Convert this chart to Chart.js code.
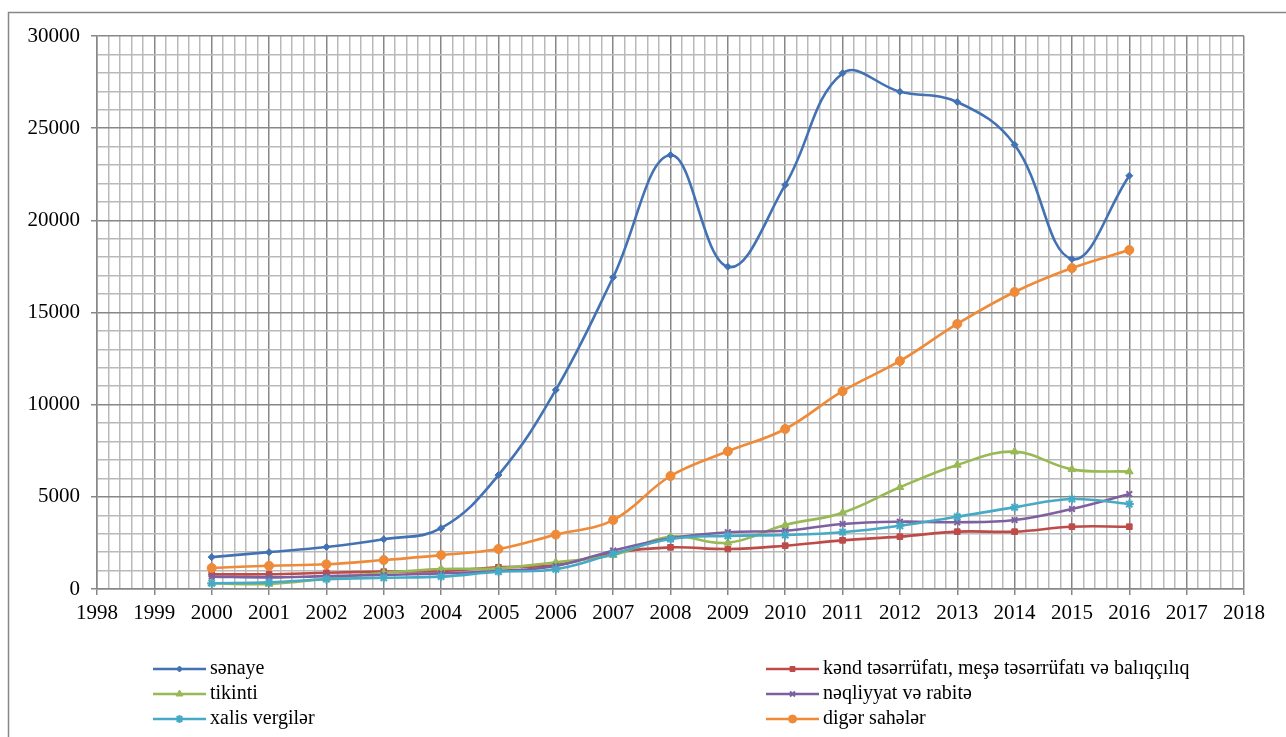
<!DOCTYPE html>
<html>
<head>
<meta charset="utf-8">
<script src="https://cdn.jsdelivr.net/npm/chart.js@4/dist/chart.umd.min.js"></script>
<style>
  html, body { margin: 0; padding: 0; background: #fff; }
  canvas { display: block; }
</style>
</head>
<body>
<canvas id="chart" width="1286" height="737"></canvas>
<script>
const years = [2000, 2001, 2002, 2003, 2004, 2005, 2006, 2007, 2008, 2009, 2010, 2011, 2012, 2013, 2014, 2015, 2016];

const senaye    = [1730, 2000, 2280, 2700, 3300, 6180, 10800, 16910, 23540, 17480, 21920, 27980, 26980, 26420, 24100, 17900, 22420];
const kend      = [800, 800, 880, 940, 980, 1180, 1300, 1970, 2260, 2170, 2350, 2640, 2840, 3110, 3110, 3380, 3380];
const tikinti   = [310, 270, 560, 880, 1085, 1120, 1450, 1840, 2840, 2510, 3470, 4140, 5520, 6730, 7450, 6490, 6370];
const neqliyyat = [670, 630, 700, 760, 850, 980, 1250, 2080, 2750, 3080, 3160, 3530, 3650, 3620, 3740, 4340, 5150];
const xalis     = [310, 360, 530, 610, 670, 940, 1070, 1900, 2710, 2880, 2930, 3080, 3430, 3920, 4430, 4880, 4610];
const diger     = [1140, 1260, 1340, 1570, 1840, 2170, 2950, 3740, 6130, 7470, 8680, 10730, 12370, 14380, 16110, 17410, 18390];

const seriesNames = [
    'sənaye',
    'kənd təsərrüfatı, meşə təsərrüfatı və balıqçılıq',
    'tikinti',
    'nəqliyyat və rabitə',
    'xalis vergilər',
    'digər sahələr'
];
const seriesValues = [senaye, kend, tikinti, neqliyyat, xalis, diger];

const xMin = 1998, xMax = 2018, xMinorStep = 0.2;
const yMin = 0, yMax = 30000, yMinorStep = 1000, yMajorStep = 5000;

// Excel 2010 style colours and markers
const colors  = ['#4272b3', '#be4b48', '#98b954', '#7d60a0', '#46aac5', '#ef8a38'];
const markers = ['rectRot', 'rect', 'triangle', 'crossRot', 'star', 'circle'];
const radii   = [3.5, 4, 4.5, 4, 4.5, 4.5];

const FONT = "'Liberation Serif', 'Times New Roman', serif";
const majorGrid = '#878787';
const minorGrid = '#b9b9b9';

const isMultiple = (v, step) => Math.abs(v / step - Math.round(v / step)) < 1e-6;

const datasets = seriesNames.map((name, i) => ({
    label: name,
    data: years.map((yr, k) => ({ x: yr, y: seriesValues[i][k] })),
    borderColor: colors[i],
    backgroundColor: colors[i],
    pointBackgroundColor: colors[i],
    pointBorderColor: colors[i],
    pointStyle: markers[i],
    pointRadius: radii[i],
    pointBorderWidth: markers[i] === 'crossRot' || markers[i] === 'star' ? 2 : 1,
    borderWidth: 2.6,
    tension: 0.4,
    fill: false,
    order: -i // later series on top, like Excel
}));

// frame + two-column legend under the plot
const framePlugin = {
    id: 'frame',
    beforeDraw(chart) {
        const c = chart.ctx;
        c.save();
        c.fillStyle = '#fff';
        c.fillRect(0, 0, chart.width, chart.height);
        c.strokeStyle = '#868686';
        c.lineWidth = 1.5;
        c.strokeRect(8.5, 12.5, chart.width + 20, chart.height + 20);
        c.restore();
    },
    afterDraw(chart) {
        const c = chart.ctx;
        const cols = [153, 766];
        const rows = [669, 694, 719];
        c.save();
        c.font = '20px ' + FONT;
        c.textBaseline = 'middle';
        chart.data.datasets.forEach((ds, i) => {
            const x = cols[i % 2];
            const y = rows[Math.floor(i / 2)];
            c.strokeStyle = ds.borderColor;
            c.fillStyle = ds.borderColor;
            c.lineWidth = 2.6;
            c.beginPath();
            c.moveTo(x, y);
            c.lineTo(x + 53, y);
            c.stroke();
            c.lineWidth = ds.pointBorderWidth;
            Chart.helpers.drawPoint(c, {
                pointStyle: ds.pointStyle,
                radius: ds.pointRadius - 0.5,
                borderWidth: ds.pointBorderWidth
            }, x + 26.5, y);
            c.fillStyle = '#000';
            c.fillText(ds.label, x + 57, y);
        });
        c.restore();
    }
};

new Chart(document.getElementById('chart'), {
    type: 'line',
    data: { datasets },
    options: {
        responsive: false,
        devicePixelRatio: 1,
        animation: false,
        layout: { padding: { left: 8, top: 36, right: 42, bottom: 118 } },
        plugins: {
            legend: { display: false },
            tooltip: { enabled: false }
        },
        scales: {
            x: {
                type: 'linear',
                min: xMin,
                max: xMax,
                afterFit: s => { s.height = 30; },
                ticks: {
                    stepSize: xMinorStep,
                    autoSkip: false,
                    maxRotation: 0,
                    padding: 6,
                    color: '#000',
                    font: { family: FONT, size: 21 },
                    callback: v => isMultiple(v, 1) ? String(Math.round(v)) : ''
                },
                grid: {
                    lineWidth: 1.5,
                    tickLength: 6,
                    color: ctx => isMultiple(ctx.tick.value, 1) ? majorGrid : minorGrid,
                    tickColor: ctx => isMultiple(ctx.tick.value, 1) ? majorGrid : 'rgba(0,0,0,0)'
                },
                border: { color: majorGrid, width: 1.5 }
            },
            y: {
                min: yMin,
                max: yMax,
                afterFit: s => { s.width = 89; },
                ticks: {
                    stepSize: yMinorStep,
                    autoSkip: false,
                    padding: 11,
                    color: '#000',
                    font: { family: FONT, size: 21 },
                    callback: v => isMultiple(v, yMajorStep) ? String(v) : ''
                },
                grid: {
                    lineWidth: 1.5,
                    tickLength: 6,
                    color: ctx => isMultiple(ctx.tick.value, yMajorStep) ? majorGrid : minorGrid,
                    tickColor: ctx => isMultiple(ctx.tick.value, yMajorStep) ? majorGrid : 'rgba(0,0,0,0)'
                },
                border: { color: majorGrid, width: 1.5 }
            }
        }
    },
    plugins: [framePlugin]
});
</script>
</body>
</html>
